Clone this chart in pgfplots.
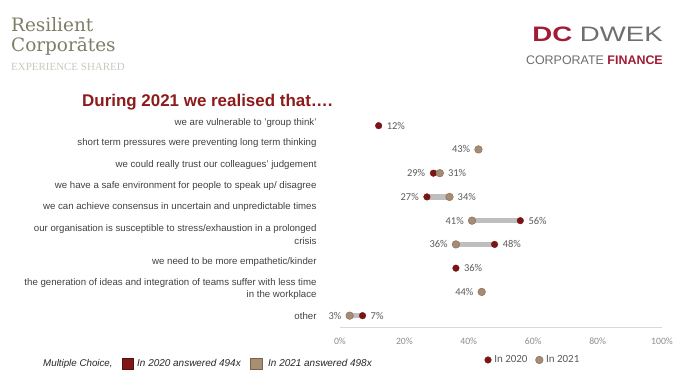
\documentclass[border=0pt]{standalone}
\usepackage{pgfplots}
\pgfplotsset{compat=1.18}
\usepackage{fontspec}
\setmainfont{Liberation Sans}
\newfontfamily\carlito{Carlito}
\newfontfamily\dejaserif{DejaVu Serif}
\newfontfamily\libserif{Liberation Serif}
\definecolor{redA}{HTML}{7B1416}
\definecolor{tanA}{HTML}{A68B75}
\definecolor{tanB}{HTML}{8C705C}
\definecolor{conn}{HTML}{BFBFBF}
\definecolor{titlec}{HTML}{8E1B1B}
\definecolor{labc}{HTML}{404040}
\definecolor{numc}{HTML}{595959}
\definecolor{tickc}{HTML}{8C8C8C}
\definecolor{logoc}{HTML}{7E7D66}
\definecolor{logol}{HTML}{C9C8BE}
\definecolor{crim}{HTML}{A11D37}
\definecolor{dgray}{HTML}{6D6E70}
\definecolor{sqred}{HTML}{7F1618}
\definecolor{sqtan}{HTML}{A88F72}

\pgfplotsset{
  numlab/.style={point meta=x,
    nodes near coords={\pgfmathprintnumber[assume math mode=true]{\pgfplotspointmeta}\%},
    every node near coord/.style={anchor=#1, inner xsep=8bp, inner ysep=0pt, font=\carlito\fontsize{10.5}{11}\selectfont, text=numc}},
  redmark/.style={only marks, mark=*, mark size=3.3bp, mark options={fill=redA, draw=redA}},
  tanmark/.style={only marks, mark=*, mark size=3.8bp, mark options={fill=tanA, draw=tanB, line width=0.5bp}},
}

\begin{document}
\begin{tikzpicture}
\path[use as bounding box] (0,0) rectangle (685bp,385bp);
% logos
\node[anchor=base west, inner sep=0pt, text=logoc, font=\dejaserif\fontsize{18.5}{20}\selectfont] at (11bp,353.3bp) {Resilient};
\node[anchor=base west, inner sep=0pt, text=logoc, font=\dejaserif\fontsize{18.5}{20}\selectfont] at (11bp,333.3bp) {Corporātes};
\node[anchor=base west, inner sep=0pt, text=logol, font=\libserif\fontsize{11}{12}\selectfont] at (11bp,314.3bp) {EXPERIENCE SHARED};
\node[anchor=base east, inner sep=0pt, font=\fontsize{21}{22}\selectfont] at (663bp,343.3bp) {\scalebox{1.32}[1]{{\bfseries\color{crim}DC} {\color{dgray}DWEK}}};
\node[anchor=base east, inner sep=0pt, font=\fontsize{12.5}{13}\selectfont] at (663bp,320bp) {{\color{dgray}CORPORATE} {\bfseries\color{crim}FINANCE}};
% title
\node[anchor=base west, inner sep=0pt, text=titlec, font=\fontsize{17}{18}\selectfont\bfseries] at (82bp,278bp) {During 2021 we realised that\dots.};
% bottom note
\node[anchor=base west, inner sep=0pt, font=\fontsize{9.8}{10}\selectfont\itshape, text=black!85] at (43bp,18.5bp) {Multiple Choice,};
\fill[sqred, draw=sqred!70!black, line width=0.4bp] (122bp,16bp) rectangle (133bp,27bp);
\node[anchor=base west, inner sep=0pt, font=\fontsize{10}{10}\selectfont\itshape, text=black!85] at (137bp,18.5bp) {In 2020 answered 494x};
\fill[sqtan, draw=sqtan!70!black, line width=0.4bp] (250bp,16bp) rectangle (262bp,27bp);
\node[anchor=base west, inner sep=0pt, font=\fontsize{10}{10}\selectfont\itshape, text=black!85] at (268bp,18.5bp) {In 2021 answered 498x};

\begin{axis}[
  at={(340bp,57.7bp)}, anchor=south west,
  scale only axis, width=322bp, height=213.5bp,
  xmin=0, xmax=100, ymin=-0.49, ymax=8.5,
  clip=false,
  axis x line*=bottom, axis y line*=left,
  x axis line style={-, draw=black!15, line width=0.8bp},
  y axis line style={draw=none},
  major tick length=0pt, tick style={draw=none},
  xtick={0,20,40,60,80,100},
  xticklabels={0\%,20\%,40\%,60\%,80\%,100\%},
  xticklabel style={anchor=center, yshift=-13.7bp, inner sep=0pt, font=\carlito\fontsize{9.7}{10}\selectfont, text=tickc},
  ytick={0,1.133,2.274,3.419,4.564,5.461,6.345,7.259,8.126},
  yticklabels={other,
    {the generation of ideas and integration of teams suffer with less time\\in the workplace},
    we need to be more empathetic/kinder,
    {our organisation is susceptible to stress/exhaustion in a prolonged\\crisis},
    we can achieve consensus in uncertain and unpredictable times,
    we have a safe environment for people to speak up/ disagree,
    we could really trust our colleagues' judgement,
    short term pressures were preventing long term thinking,
    we are vulnerable to 'group think'},
  yticklabel style={anchor=east, align=right, inner sep=0pt, xshift=-23.3bp, font=\fontsize{9.7}{12.4}\selectfont, text=labc},
  legend style={at={(axis description cs:0.601,-0.153)}, anchor=center, draw=none, fill=none, legend columns=2, font=\carlito\fontsize{11}{12}\selectfont, text=numc, /tikz/every even column/.append style={column sep=5bp}, inner sep=0pt, nodes={inner xsep=3bp}},
  legend cell align=left,
  legend image code/.code={\draw[#1] plot coordinates {(0bp,0bp)};},
]
\addplot[conn, line width=5.5bp, forget plot] coordinates {(29,6) (31,6)};
\addplot[conn, line width=5.5bp, forget plot] coordinates {(27,5) (34,5)};
\addplot[conn, line width=5.5bp, forget plot] coordinates {(41,4) (56,4)};
\addplot[conn, line width=5.5bp, forget plot] coordinates {(36,3) (48,3)};
\addplot[conn, line width=5.5bp, forget plot] coordinates {(3,0) (7,0)};
% In 2020
\addplot[redmark, numlab=west] coordinates {(12,8) (56,4) (48,3) (36,2) (7,0)};
\addlegendentry{In 2020}
\addplot[redmark, numlab=east, forget plot] coordinates {(29,6) (27,5)};
% In 2021
\addplot[tanmark, numlab=east] coordinates {(43,7) (41,4) (36,3) (44,1) (3,0)};
\addlegendentry{In 2021}
\addplot[tanmark, numlab=west, forget plot] coordinates {(31,6) (34,5)};
\end{axis}
\end{tikzpicture}
\end{document}
